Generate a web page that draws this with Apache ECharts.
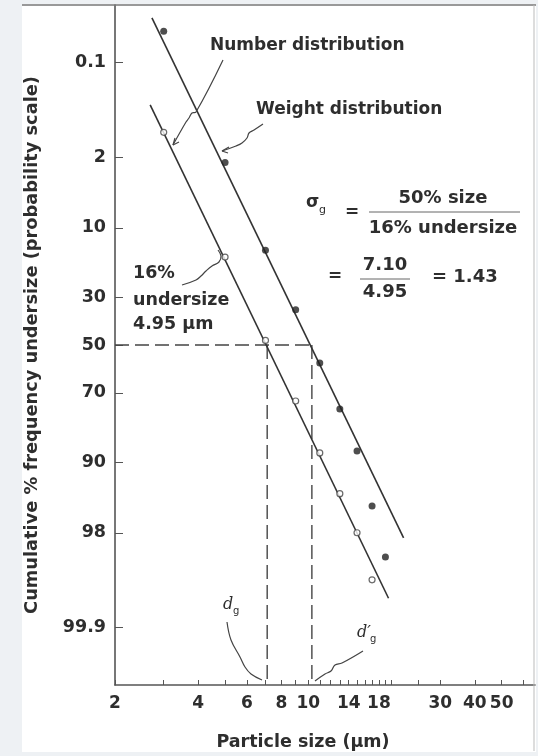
<!DOCTYPE html>
<html><head><meta charset="utf-8">
<script src="https://cdn.jsdelivr.net/npm/echarts@6/dist/echarts.min.js"></script>
<style>html,body{margin:0;padding:0;background:#eef1f4;}#c{width:538px;height:756px;}</style>
</head><body><div id="c"></div><script>
// ---- data ----
const xTickLabels = [2, 4, 6, 8, 10, 14, 18, 30, 40, 50];
const xMinorTicks = [3, 5, 7, 9, 11, 12, 13, 15, 16, 17, 19, 20, 25, 60];
const yTickLabels = [0.1, 2, 10, 30, 50, 70, 90, 98, 99.9];
const weightSizes = [3, 5, 7, 9, 11, 13, 15, 17, 19];
const weightPct = [0.03, 2.3, 15, 35, 57.8, 75.8, 87.7, 96.1, 98.98];
const numberSizes = [3, 5, 7, 9, 11, 13, 15, 17];
const numberPct = [1.0, 16.8, 48, 73, 88.1, 94.8, 98.0, 99.49];
const numberFit = [[2.68, 0.43], [19.5, 99.72]];
const weightFit = [[2.72, 0.0173], [22.1, 98.26]];
const d50Number = 7.10;
const d50Weight = 10.3;
const xRange = [2, 66];
const yRange = [0.01, 99.99];

// ---- helpers ----
function probit(pct) {
  const p = pct / 100;
  const a = [-3.969683028665376e+01, 2.209460984245205e+02, -2.759285104469687e+02, 1.383577518672690e+02, -3.066479806614716e+01, 2.506628277459239e+00];
  const b = [-5.447609879822406e+01, 1.615858368580409e+02, -1.556989798598866e+02, 6.680131188771972e+01, -1.328068155288572e+01];
  const c = [-7.784894002430293e-03, -3.223964580411365e-01, -2.400758277161838e+00, -2.549732539343734e+00, 4.374664141464968e+00, 2.938163982698783e+00];
  const d = [7.784695709041462e-03, 3.224671290700398e-01, 2.445134137142996e+00, 3.754408661907416e+00];
  const pl = 0.02425, ph = 1 - pl;
  let q, r;
  if (p < pl) { q = Math.sqrt(-2 * Math.log(p)); return (((((c[0]*q+c[1])*q+c[2])*q+c[3])*q+c[4])*q+c[5]) / ((((d[0]*q+d[1])*q+d[2])*q+d[3])*q+1); }
  if (p <= ph) { q = p - 0.5; r = q*q; return (((((a[0]*r+a[1])*r+a[2])*r+a[3])*r+a[4])*r+a[5])*q / (((((b[0]*r+b[1])*r+b[2])*r+b[3])*r+b[4])*r+1); }
  q = Math.sqrt(-2 * Math.log(1 - p)); return -(((((c[0]*q+c[1])*q+c[2])*q+c[3])*q+c[4])*q+c[5]) / ((((d[0]*q+d[1])*q+d[2])*q+d[3])*q+1);
}
const lg = Math.log10;
const pt = (x, pct) => [lg(x), probit(pct)];

const FONT = 'DejaVu Sans';
const INK = '#2e2e2e';
const yBottom = probit(yRange[1]);

const chart = echarts.init(document.getElementById('c'));
const lineStyle = { color: '#333', width: 1.6 };
const dash = { color: '#444', width: 1.4, type: [14, 6] };
const tf = (s) => 'bold ' + s + 'px "DejaVu Sans"';
const txt = (x, y, text, size, align) => ({ type: 'text', x: x, y: y, z: 10,
  style: { text: text, font: tf(size), fill: INK, align: align || 'left', verticalAlign: 'middle' } });
const squiggle = (pts) => ({ type: 'polyline', z: 10, shape: { points: pts, smooth: 0.4 },
  style: { fill: null, stroke: '#444', lineWidth: 1.2 } });

const option = {
  backgroundColor: 'transparent',
  animation: false,
  grid: { left: 115, top: 5, right: 3, bottom: 71, show: false },
  xAxis: {
    type: 'value', min: lg(xRange[0]), max: lg(xRange[1]),
    axisLine: { show: true, onZero: false, lineStyle: { color: '#555', width: 1.6 } },
    axisTick: { show: true, inside: true, length: 5, lineStyle: { color: '#555', width: 1 },
      customValues: xTickLabels.concat(xMinorTicks).map(lg) },
    axisLabel: { customValues: xTickLabels.map(lg), margin: 10, color: INK, fontFamily: FONT, fontWeight: 'bold', fontSize: 17,
      formatter: v => String(Math.round(Math.pow(10, v))) },
    splitLine: { show: false },
    name: 'Particle size (\u03bcm)', nameLocation: 'middle', nameGap: 48,
    nameTextStyle: { color: INK, fontFamily: FONT, fontWeight: 'bold', fontSize: 17.5, padding: [0, 44, 0, 0] }
  },
  yAxis: {
    type: 'value', inverse: true, min: probit(yRange[0]), max: probit(yRange[1]),
    axisLine: { show: true, onZero: false, lineStyle: { color: '#555', width: 1.6 } },
    axisTick: { show: true, inside: true, length: 8, lineStyle: { color: '#555', width: 1 },
      customValues: yTickLabels.map(probit) },
    axisLabel: { customValues: yTickLabels.map(probit), margin: 9, color: INK, fontFamily: FONT, fontWeight: 'bold', fontSize: 17.5,
      formatter: v => { let best = yTickLabels[0]; yTickLabels.forEach(t => { if (Math.abs(probit(t) - v) < Math.abs(probit(best) - v)) best = t; }); return String(best); } },
    splitLine: { show: false },
    name: 'Cumulative % frequency undersize (probability scale)', nameLocation: 'middle', nameGap: 74, nameRotate: 90,
    nameTextStyle: { color: INK, fontFamily: FONT, fontWeight: 'bold', fontSize: 17.8 }
  },
  series: [
    { type: 'line', data: numberFit.map(p => pt(p[0], p[1])), symbol: 'none', lineStyle: lineStyle, z: 3 },
    { type: 'line', data: weightFit.map(p => pt(p[0], p[1])), symbol: 'none', lineStyle: lineStyle, z: 3 },
    { type: 'line', data: [pt(xRange[0], 50), pt(d50Weight, 50)], symbol: 'none', lineStyle: dash, z: 2 },
    { type: 'line', data: [pt(d50Number, 50), [lg(d50Number), yBottom]], symbol: 'none', lineStyle: dash, z: 2 },
    { type: 'line', data: [pt(d50Weight, 50), [lg(d50Weight), yBottom]], symbol: 'none', lineStyle: dash, z: 2 },
    { type: 'scatter', data: weightSizes.map((s, i) => pt(s, weightPct[i])), symbol: 'circle', symbolSize: 7,
      itemStyle: { color: '#222' }, z: 5 },
    { type: 'scatter', data: numberSizes.map((s, i) => pt(s, numberPct[i])), symbol: 'circle', symbolSize: 6,
      itemStyle: { color: '#fff', borderColor: '#444', borderWidth: 1.2 }, z: 5 }
  ],
  graphic: [
    { type: 'rect', shape: { x: 22, y: 4, width: 514, height: 748 }, style: { fill: '#fff' }, z: -10, silent: true },
    { type: 'line', shape: { x1: 22, y1: 5, x2: 536, y2: 5 }, style: { stroke: '#777', lineWidth: 1.5 }, z: 1 },
    { type: 'line', shape: { x1: 534, y1: 5, x2: 534, y2: 751 }, style: { stroke: '#bbb', lineWidth: 1 }, z: 1 },
    txt(210, 46, 'Number distribution', 17),
    txt(256, 110, 'Weight distribution', 17),
    txt(133, 273, '16%', 17.5),
    txt(133, 300, 'undersize', 17.5),
    txt(133, 324, '4.95 \u03bcm', 17.5),
    txt(306, 203, '\u03c3', 17),
    { type: 'text', x: 319, y: 210, z: 10, style: { text: 'g', font: '11px "DejaVu Sans"', fill: INK, verticalAlign: 'middle' } },
    txt(352, 213, '=', 17, 'center'),
    txt(443, 198, '50% size', 18, 'center'),
    { type: 'line', z: 10, shape: { x1: 369, y1: 212, x2: 520, y2: 212 }, style: { stroke: '#666', lineWidth: 1 } },
    txt(443, 228, '16% undersize', 18, 'center'),
    txt(335, 277, '=', 17, 'center'),
    txt(385, 265, '7.10', 18, 'center'),
    { type: 'line', z: 10, shape: { x1: 360, y1: 279, x2: 410, y2: 279 }, style: { stroke: '#666', lineWidth: 1 } },
    txt(385, 292, '4.95', 18, 'center'),
    txt(432, 277, '= 1.43', 18),
    { type: 'text', x: 223, y: 605, z: 10, style: { text: 'd', font: 'italic 16px "DejaVu Serif"', fill: INK, verticalAlign: 'middle' } },
    { type: 'text', x: 233, y: 611, z: 10, style: { text: 'g', font: '10px "DejaVu Sans"', fill: INK, verticalAlign: 'middle' } },
    { type: 'text', x: 357, y: 633, z: 10, style: { text: 'd\u2032', font: 'italic 16px "DejaVu Serif"', fill: INK, verticalAlign: 'middle' } },
    { type: 'text', x: 370, y: 639, z: 10, style: { text: 'g', font: '10px "DejaVu Sans"', fill: INK, verticalAlign: 'middle' } },
    squiggle([[223, 60], [196, 112], [192, 113], [189, 118], [186, 122], [173, 145]]),
    squiggle([[173, 145], [175, 138]]), squiggle([[173, 145], [179, 142]]),
    squiggle([[263, 124], [254, 130], [249, 133], [247, 138], [242, 143], [236, 146], [222, 151]]),
    squiggle([[222, 151], [229, 147]]), squiggle([[222, 151], [228, 153]]),
    squiggle([[182, 285], [196, 280], [201, 276], [206, 271], [212, 266], [219, 262], [221, 256], [218, 250]]),
    squiggle([[227, 622], [231, 640], [240, 657], [245, 667], [251, 674], [262, 680]]),
    squiggle([[363, 651], [342, 663], [335, 665], [331, 671], [325, 674], [315, 681]])
  ]
};
chart.setOption(option);
</script></body></html>
